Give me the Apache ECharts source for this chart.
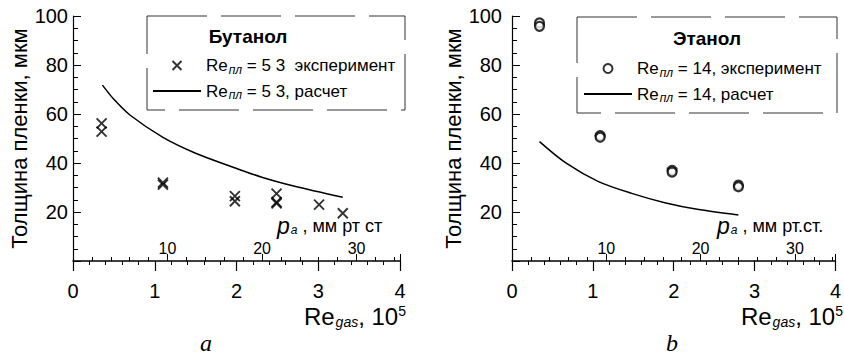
<!DOCTYPE html>
<html>
<head>
<meta charset="utf-8">
<script src="https://cdn.jsdelivr.net/npm/echarts@6/dist/echarts.min.js"></script>
<style>
    html, body { margin: 0; padding: 0; background: #fff; }
    #echarts-main { width: 844px; height: 358px; }
</style>
</head>
<body>
<div id="echarts-main"></div>
<script>
    // Бутанол (a)
    const reButExp = [0.35, 0.35, 1.10, 1.10, 1.98, 1.98, 2.49, 2.49, 2.49, 3.01, 3.30]
    const hButExp = [56.2, 52.8, 32.0, 31.2, 26.5, 24.4, 27.5, 24.0, 23.5, 23.0, 19.5]
    const reButCalc = [0.36, 0.50, 0.70, 1.10, 1.50, 1.90, 2.30, 2.70, 3.30]
    const hButCalc = [71.8, 66.0, 59.5, 50.5, 44.0, 39.0, 34.3, 30.6, 26.0]

    // Этанол (b)
    const reEthExp = [0.34, 0.34, 1.09, 1.09, 1.98, 1.98, 2.80, 2.80]
    const hEthExp = [97.2, 95.8, 51.2, 50.5, 37.0, 36.3, 31.0, 30.3]
    const reEthCalc = [0.34, 0.67, 1.07, 1.48, 1.89, 2.29, 2.80]
    const hEthCalc = [48.7, 39.9, 32.4, 27.6, 23.8, 21.1, 18.8]

    const reTicks = [0, 4, 1]      // min, max, interval
    const hTicks = [0, 100, 20]
    const pMax = [34.6, 34.3]     // мм рт ст на Re = 4

    const nameButExp = 'Re_пл = 5 3  эксперимент'
    const nameButCalc = 'Re_пл = 5 3, расчет'
    const nameEthExp = 'Re_пл = 14, эксперимент'
    const nameEthCalc = 'Re_пл = 14, расчет'

    const FONT = '"Liberation Sans", Arial, sans-serif'
    const SERIF = '"Liberation Serif", "Times New Roman", serif'

    const zip = (xs, ys) => xs.map((x, i) => [x, ys[i]])

    let myChart = echarts.init(document.getElementById('echarts-main'), null, { renderer: 'svg' })

    function reAxis(g) {
        return {
            type: 'value', gridIndex: g, min: reTicks[0], max: reTicks[1], interval: reTicks[2],
            axisLine: { lineStyle: { color: '#000', width: 1.5 } },
            axisTick: { length: 10, lineStyle: { color: '#000', width: 1.2 } },
            minorTick: { show: true, splitNumber: 5, length: 4, lineStyle: { color: '#000' } },
            splitLine: { show: false },
            axisLabel: { color: '#000', fontSize: 20, fontFamily: FONT, margin: 20 }
        }
    }
    function pAxis(g) {
        return {
            type: 'value', gridIndex: g, position: 'bottom', min: 0, max: pMax[g], interval: 10,
            axisLine: { show: false },
            axisTick: { inside: true, length: 7, lineStyle: { color: '#000' } },
            minorTick: { show: true, splitNumber: 5, length: 4, lineStyle: { color: '#000' } },
            splitLine: { show: false },
            axisLabel: { inside: true, margin: 5, color: '#000', fontSize: 16, fontFamily: FONT,
                showMinLabel: false, showMaxLabel: false }
        }
    }
    function hAxis(g, margin, gap) {
        return {
            type: 'value', gridIndex: g, min: hTicks[0], max: hTicks[1], interval: hTicks[2],
            name: 'Толщина пленки, мкм', nameLocation: 'middle', nameGap: gap,
            nameTextStyle: { color: '#000', fontSize: 22, fontFamily: FONT },
            axisLine: { lineStyle: { color: '#000', width: 1.2 } },
            axisTick: { inside: true, length: 8, lineStyle: { color: '#000' } },
            minorTick: { show: true, splitNumber: 4, length: 5, lineStyle: { color: '#000' } },
            splitLine: { show: false },
            axisLabel: { color: '#000', fontSize: 20, fontFamily: FONT, margin: margin, showMinLabel: false }
        }
    }
    // легенда: у линии расчета скрываем кружок
    function legendFor(left, top, expName, calcName) {
        return {
            orient: 'vertical', left: left, top: top, padding: 0,
            itemWidth: 48, itemHeight: 9, itemGap: 7,
            selectedMode: false,
            data: [expName, { name: calcName, itemStyle: { opacity: 0 } }],
            formatter: n => n.replace('Re_пл', 'Re{s|пл}'),
            textStyle: {
                color: '#000', fontSize: 17, fontFamily: FONT,
                rich: { s: { fontSize: 12, fontStyle: 'italic', fontFamily: FONT, padding: [8, 0, 0, 1] } }
            }
        }
    }
    function xName(x) {
        return {
            type: 'text', x: x, y: 316,
            style: {
                text: 'Re{s|gas}, 10{p|5}', align: 'right', verticalAlign: 'middle',
                fill: '#000', fontSize: 24, fontFamily: FONT,
                rich: {
                    s: { fontSize: 14, fontStyle: 'italic', fontFamily: FONT, padding: [12, 0, 0, 1] },
                    p: { fontSize: 14, fontFamily: FONT, padding: [0, 0, 10, 0] }
                }
            }
        }
    }
    function pName(x, txt) {
        return {
            type: 'text', x: x, y: 226,
            style: {
                text: '{i|p}{s|a} , ' + txt, align: 'left', verticalAlign: 'middle',
                fill: '#000', fontSize: 18, fontFamily: FONT,
                rich: {
                    i: { fontSize: 23, fontStyle: 'italic', fontFamily: FONT },
                    s: { fontSize: 12, fontStyle: 'italic', fontFamily: FONT, padding: [8, 0, 0, 1] }
                }
            }
        }
    }
    function box(x1, y1, x2, y2) {
        return {
            type: 'rect', shape: { x: x1, y: y1, width: x2 - x1, height: y2 - y1 },
            style: { fill: 'none', stroke: '#333', lineWidth: 1, lineDash: [60, 14] }
        }
    }
    function label(x, y, txt, opts) {
        return {
            type: 'text', x: x, y: y,
            style: Object.assign({ text: txt, align: 'center', verticalAlign: 'middle', fill: '#000', fontFamily: FONT }, opts)
        }
    }

    const option = {
        animation: false,
        grid: [
            { left: 73, right: 444, top: 16, bottom: 97 },
            { left: 512, right: 6, top: 16, bottom: 97 }
        ],
        xAxis: [reAxis(0), pAxis(0), reAxis(1), pAxis(1)],
        yAxis: [hAxis(0, 5, 42), hAxis(1, 10, 48)],
        legend: [
            legendFor(152, 57, nameButExp, nameButCalc),
            legendFor(583, 60, nameEthExp, nameEthCalc)
        ],
        series: [
            {
                name: nameButExp, type: 'scatter', xAxisIndex: 0, yAxisIndex: 0,
                data: zip(reButExp, hButExp),
                symbol: 'path://M0,0L10,10M10,0L0,10', symbolSize: 10,
                itemStyle: { color: '#000', borderColor: '#000', borderWidth: 1.9 }
            },
            {
                name: nameButCalc, type: 'line', xAxisIndex: 0, yAxisIndex: 0,
                data: zip(reButCalc, hButCalc), smooth: 0.3, symbol: 'none',
                lineStyle: { color: '#000', width: 1.5 }, itemStyle: { color: '#000' }
            },
            {
                name: nameEthExp, type: 'scatter', xAxisIndex: 2, yAxisIndex: 1,
                data: zip(reEthExp, hEthExp),
                symbol: 'circle', symbolSize: 9,
                itemStyle: { color: '#fff', borderColor: '#000', borderWidth: 2.2 }
            },
            {
                name: nameEthCalc, type: 'line', xAxisIndex: 2, yAxisIndex: 1,
                data: zip(reEthCalc, hEthCalc), smooth: 0.3, symbol: 'none',
                lineStyle: { color: '#000', width: 1.5 }, itemStyle: { color: '#000' }
            }
        ],
        graphic: [
            box(147, 16, 405, 110),
            box(577, 17, 837, 113),
            label(248, 36, 'Бутанол', { fontSize: 19, fontWeight: 'bold' }),
            label(707, 38, 'Этанол', { fontSize: 19, fontWeight: 'bold' }),
            xName(406),
            xName(843),
            pName(277, 'мм рт ст'),
            pName(717, 'мм рт.ст.'),
            label(206, 343, 'a', { fontSize: 24, fontStyle: 'italic', fontFamily: SERIF }),
            label(672, 343, 'b', { fontSize: 24, fontStyle: 'italic', fontFamily: SERIF })
        ]
    }

    option && myChart.setOption(option)
</script>
</body>
</html>
